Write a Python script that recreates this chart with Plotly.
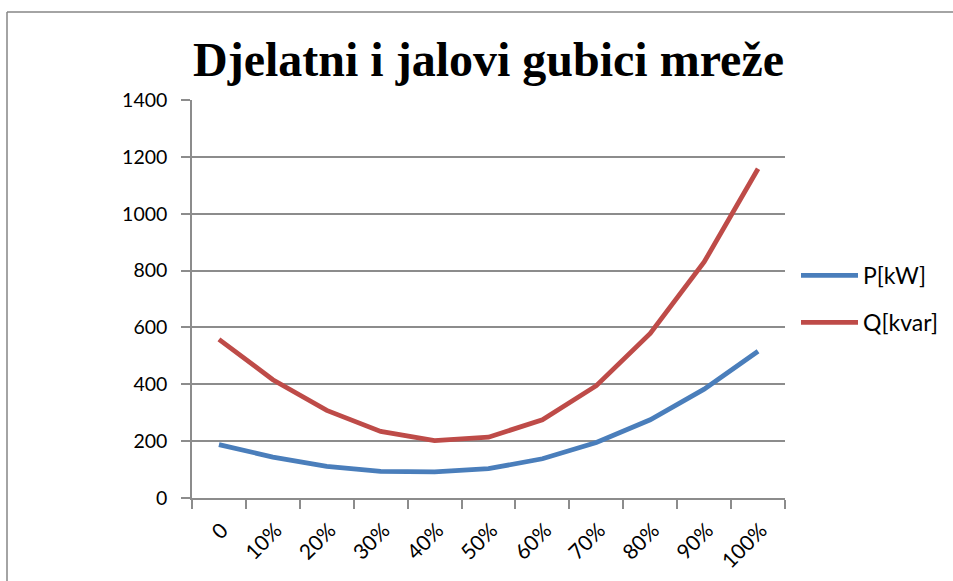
import plotly.graph_objects as go

categories = ["0", "10%", "20%", "30%", "40%", "50%", "60%", "70%", "80%", "90%", "100%"]
p_kw = [188, 144, 111, 94, 92, 103, 138, 195, 275, 383, 516]
q_kvar = [558, 416, 308, 234, 202, 214, 275, 395, 579, 830, 1158]
y_ticks = [0, 200, 400, 600, 800, 1000, 1200, 1400]

W, H = 953, 581
L, R, T, B = 192, 785, 100, 498

fig = go.Figure()
fig.add_trace(go.Scatter(x=categories, y=p_kw, mode="lines", name="P[kW]",
                         line=dict(color="#4A7EBB", width=4.8), legendgroup="p"))
fig.add_trace(go.Scatter(x=categories, y=q_kvar, mode="lines", name="Q[kvar]",
                         line=dict(color="#BE4B48", width=4.8), legendgroup="q"))

FONT = "Lato, Open Sans, sans-serif"

fig.update_layout(
    width=W, height=H,
    paper_bgcolor="white", plot_bgcolor="white",
    margin=dict(l=L, r=W - R, t=T, b=H - B, pad=0, autoexpand=False),
    title=dict(text="<b>Djelatni i jalovi gubici mreže</b>",
               font=dict(family="Liberation Serif, Times New Roman, serif", size=48, color="#000000"),
               x=(L + R) / 2 / W, xanchor="center", xref="container",
               y=1 - 76 / H, yanchor="bottom", yref="container"),
    showlegend=True,
    legend=dict(xref="container", yref="container", x=796 / W, xanchor="left",
                y=1 - 299 / H, yanchor="middle",
                font=dict(family=FONT, size=23, color="#000000"),
                itemwidth=57, tracegroupgap=14, bgcolor="rgba(0,0,0,0)"),
    xaxis=dict(type="category", range=[-0.5, len(categories) - 0.5],
               showgrid=False, showline=True, linecolor="#8c8c8c", linewidth=1.5,
               ticks="outside", ticklen=9, tickcolor="#8c8c8c", tickwidth=1.5,
               tickson="boundaries", tickangle=-45,
               tickfont=dict(family=FONT, size=21, color="#000000"),
               ticklabelstandoff=10, ticklabelshift=3, zeroline=False, automargin=False),
    yaxis=dict(range=[0, 1400], tickvals=y_ticks, showgrid=True, gridcolor="#8c8c8c", gridwidth=1.5,
               showline=True, linecolor="#8c8c8c", linewidth=1.5,
               ticks="outside", ticklen=9, tickcolor="#8c8c8c", tickwidth=1.5,
               tickfont=dict(family=FONT, size=19.5, color="#000000"),
               ticklabelstandoff=10, zeroline=False, automargin=False),
)

# outer chart frame (left and top edges visible)
fig.add_shape(type="line", xref="paper", yref="paper",
              x0=(7 - L) / (R - L), x1=(W + 5 - L) / (R - L),
              y0=(B - 12) / (B - T), y1=(B - 12) / (B - T),
              line=dict(color="#868686", width=1.5))
fig.add_shape(type="line", xref="paper", yref="paper",
              x0=(7 - L) / (R - L), x1=(7 - L) / (R - L),
              y0=(B - 12) / (B - T), y1=(B - H - 5) / (B - T),
              line=dict(color="#868686", width=1.5))

fig.write_html("out.html", config={"displayModeBar": False},
               post_script="document.body.style.margin='0';")
